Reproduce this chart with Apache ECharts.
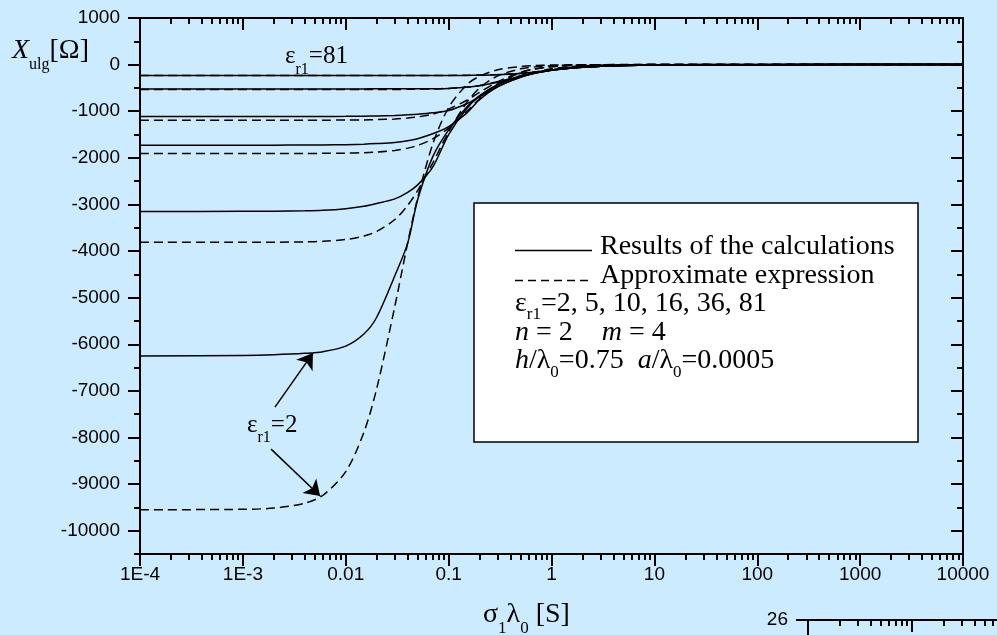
<!DOCTYPE html>
<html>
<head>
<meta charset="utf-8">
<script src="https://cdn.jsdelivr.net/npm/echarts@6/dist/echarts.min.js"></script>
<style>
  html, body { margin: 0; padding: 0; background: #CCEBFF; }
  #chart { width: 997px; height: 635px; }
</style>
</head>
<body>
<div id="chart"></div>
<script>
// Conductivity-wavelength product sigma1*lambda0 [S]
const sigma = [1e-4, 1e-3, 0.002, 0.004, 0.006, 0.01, 0.015, 0.02, 0.03, 0.04, 0.05, 0.07, 0.1,
               0.15, 0.2, 0.3, 0.5, 0.7, 1, 1.5, 2, 3, 5, 10, 100, 1e4];

// X_ulg [Ohm] — results of the calculations (solid)
const calcEps2  = [-6250, -6240, -6225, -6195, -6160, -6040, -5780, -5420, -4530, -3830, -2900, -1980, -1400, -910, -665, -428, -245, -170, -115, -74, -54, -34, -20, -9, -1, 0];
const calcEps5  = [-3150, -3148, -3144, -3136, -3125, -3090, -3040, -2980, -2880, -2740, -2580, -2200, -1500, -940, -675, -430, -246, -170, -115, -74, -54, -34, -20, -9, -1, 0];
const calcEps10 = [-1729, -1729, -1728, -1726, -1724, -1718, -1708, -1695, -1670, -1635, -1590, -1485, -1330, -1040, -750, -475, -272, -180, -120, -76, -55, -34, -20, -9, -1, 0];
const calcEps16 = [-1115, -1115, -1114, -1113, -1112, -1110, -1106, -1100, -1090, -1078, -1065, -1035, -985, -840, -690, -470, -268, -178, -120, -76, -55, -34, -20, -9, -1, 0];
const calcEps36 = [-521, -521, -521, -521, -521, -521, -521, -520, -520, -519, -518, -516, -510, -488, -455, -380, -255, -180, -122, -77, -55, -34, -20, -9, -1, 0];
const calcEps81 = [-235, -235, -235, -235, -235, -235, -235, -235, -235, -235, -235, -235, -234, -232, -228, -218, -190, -160, -118, -78, -56, -35, -20, -9, -1, 0];

// X_ulg [Ohm] — approximate expression (dashed)
const apprEps2  = [-9550, -9541, -9514, -9409, -9239, -8733, -7889, -6950, -5185, -3825, -2860, -1710, -922, -433, -249, -112, -41, -21, -10, -5, -3, -1, 0, 0, 0, 0];
const apprEps5  = [-3814, -3813, -3811, -3804, -3792, -3752, -3678, -3579, -3323, -3020, -2703, -2113, -1443, -812, -503, -242, -91, -47, -23, -10, -6, -3, -1, 0, 0, 0];
const apprEps10 = [-1907, -1907, -1907, -1906, -1904, -1899, -1890, -1877, -1841, -1792, -1733, -1594, -1362, -1003, -733, -414, -173, -92, -46, -21, -12, -5, -2, 0, 0, 0];
const apprEps16 = [-1193, -1193, -1193, -1193, -1192, -1190, -1186, -1181, -1167, -1147, -1123, -1063, -954, -764, -597, -367, -165, -90, -46, -21, -12, -5, -2, 0, 0, 0];
const apprEps36 = [-535, -535, -535, -535, -535, -535, -534, -534, -533, -531, -528, -522, -510, -482, -447, -370, -239, -156, -90, -44, -26, -12, -4, -1, 0, 0];
const apprEps81 = [-233, -233, -233, -233, -233, -233, -233, -233, -233, -233, -233, -232, -231, -228, -224, -214, -187, -156, -117, -72, -47, -21, -9, -2, 0, 0];

// Axis ticks and labels
const xMajorTicks = [1e-4, 1e-3, 0.01, 0.1, 1, 10, 100, 1000, 10000];
const xTickLabels = ['1E-4', '1E-3', '0.01', '0.1', '1', '10', '100', '1000', '10000'];
const yMajorTicks = [1000, 0, -1000, -2000, -3000, -4000, -5000, -6000, -7000, -8000, -9000, -10000];
const yMinorTicks = [500, -500, -1500, -2500, -3500, -4500, -5500, -6500, -7500, -8500, -9500, -10500];

// Arrows from the "eps_r1=2" note to the two eps=2 curves: [start, tip] in data units
const arrowToSolid  = [[0.00205, -7350], [0.0048, -6190]];
const arrowToDashed = [[0.00188, -8250], [0.00564, -9257]];

// Corner of the neighbouring panel
const nextPanelXTicks = [1, 10, 100, 1000, 1e4, 1e5, 1e6, 1e7, 1e8];
const nextPanelYTicks = [26];

// Decade ticks and 2..9 minor ticks expressed as log10 positions for tick-only axes
const toLog = arr => arr.map(v => Math.log10(v));
function minorLogs(decades) {
  const out = [];
  decades.slice(0, -1).forEach(d => { for (let k = 2; k <= 9; k++) out.push(Math.log10(d * k)); });
  return out;
}
const xMajorLog = toLog(xMajorTicks);
const xMinorLog = minorLogs(xMajorTicks);
const nextMajorLog = toLog(nextPanelXTicks);
const nextMinorLog = minorLogs(nextPanelXTicks);

const INK = '#000';
const SANS = 'Liberation Sans';
const SERIF = 'Liberation Serif';

function pairs(arr) { return sigma.map((s, i) => [s, arr[i]]); }

function lineSeries(name, arr, dashed, extra) {
  return Object.assign({
    name: name,
    type: 'line',
    xAxisIndex: 0,
    yAxisIndex: 0,
    data: pairs(arr),
    showSymbol: false,
    symbol: 'none',
    smooth: 0.3,
    silent: true,
    lineStyle: { color: INK, width: 1.5, type: dashed ? [9, 5] : 'solid' },
    z: 3
  }, extra || {});
}

// tick-only value axis in log10 units
function tickAxis(grid, pos, min, max, ticks, len, inside, withLine, extra) {
  return Object.assign({
    gridIndex: grid, type: 'value', position: pos, min: min, max: max,
    axisLine: { show: withLine, onZero: false, lineStyle: { color: INK, width: 2 } },
    axisTick: { show: ticks.length > 0, inside: inside, length: len, customValues: ticks, lineStyle: { color: INK, width: 2 } },
    axisLabel: { show: false },
    splitLine: { show: false },
    minorTick: { show: false }
  }, extra || {});
}

// Rich text with subscripts: baseline-positioned
function richText(x, baseline, fs, ss, drop, str, extra) {
  const pb = drop - 0.1625 * (fs - ss);
  const base = { fontFamily: SERIF, fontSize: fs, lineHeight: fs, verticalAlign: 'bottom', padding: [0, 0, pb, 0], color: INK };
  return {
    type: 'text', z: 100, silent: true,
    style: {
      x: x, y: baseline + pb + 0.1625 * fs,
      text: str,
      verticalAlign: 'bottom', textVerticalAlign: 'bottom', align: 'left',
      fill: INK,
      rich: Object.assign({
        m: base,
        i: Object.assign({}, base, { fontStyle: 'italic' }),
        s: { fontFamily: SERIF, fontSize: ss, lineHeight: ss, verticalAlign: 'bottom', color: INK }
      }, extra || {})
    }
  };
}

const xLabelFmt = v => {
  const idx = Math.round(Math.log10(v)) + 4;
  return xTickLabels[idx] !== undefined ? xTickLabels[idx] : '';
};

const chart = echarts.init(document.getElementById('chart'), null, { renderer: 'canvas' });

const mainRect = { left: 140, top: 18, width: 823, height: 536 };
const nextRect = { left: 808, top: 620, width: 832, height: 300 };
const gridOf = r => Object.assign({ outerBoundsMode: 'none', containLabel: false }, r);

chart.setOption({
  backgroundColor: '#CCEBFF',
  animation: false,
  grid: [gridOf(mainRect), gridOf(mainRect), gridOf(mainRect), gridOf(nextRect), gridOf(nextRect)],
  xAxis: [
    // data axis (log), carries labels and the bottom frame line
    {
      gridIndex: 0, type: 'log', logBase: 10, position: 'bottom', min: 1e-4, max: 1e4,
      axisLine: { show: true, onZero: false, lineStyle: { color: INK, width: 2 } },
      axisTick: { show: false },
      axisLabel: { show: true, customValues: xMajorTicks, formatter: xLabelFmt, margin: 11,
                   fontSize: 19, fontFamily: SANS, color: INK },
      splitLine: { show: false },
      minorTick: { show: false }
    },
    tickAxis(0, 'top', -4, 4, xMajorLog, 12, true, true),       // top frame, decade ticks
    tickAxis(1, 'bottom', -4, 4, xMajorLog, 12, false, false),  // bottom decade ticks
    tickAxis(1, 'top', -4, 4, xMinorLog, 6, true, false),       // top minor ticks
    tickAxis(2, 'bottom', -4, 4, xMinorLog, 6, false, false),   // bottom minor ticks
    tickAxis(3, 'top', 0, 8, nextMajorLog, 12, true, true),
    tickAxis(4, 'top', 0, 8, nextMinorLog, 6, true, false)
  ],
  yAxis: [
    tickAxis(0, 'left', -10500, 1000, yMajorTicks, 12, false, true, {
      axisLabel: { show: true, customValues: yMajorTicks, formatter: v => String(v), margin: 20,
                   fontSize: 19, fontFamily: SANS, color: INK }
    }),
    tickAxis(0, 'right', -10500, 1000, yMajorTicks, 12, true, true),
    tickAxis(1, 'left', -10500, 1000, yMinorTicks, 6, false, false),
    tickAxis(1, 'right', -10500, 1000, yMinorTicks, 6, true, false),
    tickAxis(2, 'left', -10500, 1000, [], 0, false, false, { show: false }),
    tickAxis(3, 'left', 0, 26, nextPanelYTicks, 12, false, true, {
      axisLabel: { show: true, customValues: nextPanelYTicks, formatter: v => String(v), margin: 20,
                   fontSize: 19, fontFamily: SANS, color: INK }
    }),
    tickAxis(4, 'left', 0, 26, [], 0, false, false, { show: false })
  ],
  series: [
    lineSeries('calc εr1=2', calcEps2, false),
    lineSeries('calc εr1=5', calcEps5, false),
    lineSeries('calc εr1=10', calcEps10, false),
    lineSeries('calc εr1=16', calcEps16, false),
    lineSeries('calc εr1=36', calcEps36, false),
    lineSeries('calc εr1=81', calcEps81, false),
    lineSeries('approx εr1=2', apprEps2, true, {
      markLine: {
        silent: true,
        symbol: ['none', 'arrow'],
        symbolSize: 15,
        label: { show: false },
        lineStyle: { color: INK, width: 1.5, type: 'solid' },
        emphasis: { disabled: true },
        data: [
          [{ coord: arrowToSolid[0] }, { coord: arrowToSolid[1] }],
          [{ coord: arrowToDashed[0] }, { coord: arrowToDashed[1] }]
        ]
      }
    }),
    lineSeries('approx εr1=5', apprEps5, true),
    lineSeries('approx εr1=10', apprEps10, true),
    lineSeries('approx εr1=16', apprEps16, true),
    lineSeries('approx εr1=36', apprEps36, true),
    lineSeries('approx εr1=81', apprEps81, true)
  ],
  graphic: [
    // axis titles
    richText(12, 60, 28, 16, 10, '{i|X}{s|ulg}{m|[Ω]}'),
    richText(483, 624, 28, 17, 10, '{m|σ}{s|1}{m|λ}{s|0}{m| [S]}'),
    // curve notes
    richText(285, 65, 25, 16, 10, '{m|ε}{s|r1}{m|=81}'),
    richText(247, 434, 25, 16, 9, '{m|ε}{s|r1}{m|=2}'),
    // legend box
    {
      type: 'rect', z: 90, silent: true,
      shape: { x: 474, y: 203, width: 444, height: 239 },
      style: { fill: '#FFFFFF', stroke: INK, lineWidth: 1.5 }
    },
    {
      type: 'line', z: 100, silent: true,
      shape: { x1: 515, y1: 250.5, x2: 592, y2: 250.5 },
      style: { stroke: INK, lineWidth: 1.5 }
    },
    {
      type: 'line', z: 100, silent: true,
      shape: { x1: 515, y1: 280.5, x2: 593, y2: 280.5 },
      style: { stroke: INK, lineWidth: 1.5, lineDash: [8, 5] }
    },
    richText(600, 256, 28, 17, 8, '{m|Results of the calculations}'),
    richText(600, 285, 28, 17, 8, '{m|Approximate expression}'),
    richText(515, 313, 28, 17, 7, '{m|ε}{s|r1}{m|=2, 5, 10, 16, 36, 81}'),
    richText(515, 342, 28, 17, 8, '{i|n}{m| = 2}{g|}{i|m}{m| = 4}', { g: { width: 29, fontSize: 28, lineHeight: 28 } }),
    richText(515, 370, 28, 17, 8, '{i|h}{m|/λ}{s|0}{m|=0.75  }{i|a}{m|/λ}{s|0}{m|=0.0005}')
  ]
});
</script>
</body>
</html>
